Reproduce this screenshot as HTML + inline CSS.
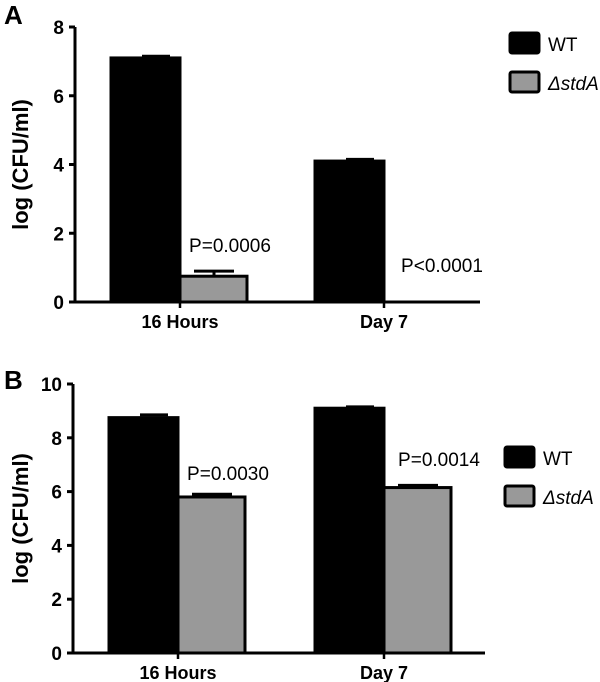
<!DOCTYPE html>
<html><head><meta charset="utf-8"><style>
body{margin:0;background:#fff;}
svg{display:block;font-family:"Liberation Sans",Arial,sans-serif;}
</style></head><body>
<svg id="s" width="600" height="682"></svg>
<script>
const categories=["16 Hours","Day 7"];
const seriesNames=["WT","\u0394stdA"];
const aWT=[7.1,4.1];
const aMut=[0.75,0];
const aMutErr=[0.15,0];
const aWTErr=[0.05,0.05];
const bWT=[8.75,9.1];
const bMut=[5.8,6.15];
const bWTErr=[0.1,0.05];
const bMutErr=[0.1,0.08];
const aTicks=[0,2,4,6,8];
const bTicks=[0,2,4,6,8,10];
const aP=["P=0.0006","P<0.0001"];
const bP=["P=0.0030","P=0.0014"];

const S=document.getElementById('s');
const NS='http://www.w3.org/2000/svg';
function el(t,a,txt){const e=document.createElementNS(NS,t);for(const k in a)e.setAttribute(k,a[k]);if(txt!==undefined)e.textContent=txt;S.appendChild(e);return e;}

function panel(o){
  const y=v=>o.y0-(v/o.max)*(o.y0-o.yTop);
  const cx=[o.c1,o.c2];
  for(let i=0;i<2;i++){
    const wt=o.wt[i],mu=o.mu[i];
    let e=el('line',{x1:cx[i]-38,x2:cx[i]-10,y1:y(wt+o.wtE[i]),y2:y(wt+o.wtE[i]),stroke:'#000','stroke-width':3});
    
    let r=el('rect',{x:cx[i]-69,y:y(wt),width:69,height:o.y0-y(wt),fill:'#000',stroke:'#000','stroke-width':3});
    
    if(mu>0){
      e=el('line',{x1:cx[i]+14,x2:cx[i]+54,y1:y(mu+o.muE[i]),y2:y(mu+o.muE[i]),stroke:'#000','stroke-width':3});
      
      e=el('line',{x1:cx[i]+34,x2:cx[i]+34,y1:y(mu+o.muE[i]),y2:y(mu),stroke:'#000','stroke-width':3});
      
      r=el('rect',{x:cx[i],y:y(mu),width:67,height:o.y0-y(mu),fill:'#999',stroke:'#000','stroke-width':3});
      
    }
    const t=el('text',{x:cx[i]+o.pdx[i],y:o.py[i],'font-size':19,'text-anchor':'middle'},o.p[i]);
    
    const cl=el('text',{x:cx[i],y:o.y0+26,'font-size':18,'font-weight':'bold','text-anchor':'middle'},categories[i]);
    
    const tk=el('line',{x1:cx[i],x2:cx[i],y1:o.y0,y2:o.y0+6,stroke:'#000','stroke-width':2.5});
    
  }
  let ax=el('line',{x1:o.ax,x2:o.ax,y1:o.yTop,y2:o.y0+1,stroke:'#000','stroke-width':3});
  
  ax=el('line',{x1:o.ax-6,x2:o.xEnd,y1:o.y0,y2:o.y0,stroke:'#000','stroke-width':3});
  
  o.ticks.forEach(v=>{
    const l=el('line',{x1:o.ax-6,x2:o.ax,y1:y(v),y2:y(v),stroke:'#000','stroke-width':3});
    
    const t=el('text',{x:o.ax-11,y:y(v)+7,'font-size':19,'font-weight':'bold','text-anchor':'end'},v);
    
  });
  const yt=el('text',{x:0,y:0,'font-size':22,'font-weight':'bold','text-anchor':'middle',transform:`translate(28,${(o.y0+o.yTop)/2}) rotate(-90)`},'log (CFU/ml)');
  
  const pl=el('text',{x:4,y:o.letterY,'font-size':26,'font-weight':'bold'},o.letter);
  
  for(let k=0;k<2;k++){
    const r=el('rect',{x:o.lx,y:o.ly+k*39,width:29,height:20,fill:k?'#999':'#000',stroke:'#000','stroke-width':3,rx:2});
    
    const t=el('text',{x:o.lx+38,y:o.ly+k*39+18,'font-size':19,'font-style':k?'italic':'normal'},seriesNames[k]);
    
  }
}
panel({ax:75,y0:302,yTop:27,max:8,xEnd:480,c1:180,c2:384,wt:aWT,mu:aMut,wtE:aWTErr,muE:aMutErr,ticks:aTicks,p:aP,pdx:[50,58],py:[252,272],letter:'A',letterY:24,lx:510,ly:33});
panel({ax:73,y0:653,yTop:384,max:10,xEnd:485,c1:178,c2:384,wt:bWT,mu:bMut,wtE:bWTErr,muE:bMutErr,ticks:bTicks,p:bP,pdx:[50,55],py:[480,466],letter:'B',letterY:389,lx:505,ly:447});
</script>
</body></html>
